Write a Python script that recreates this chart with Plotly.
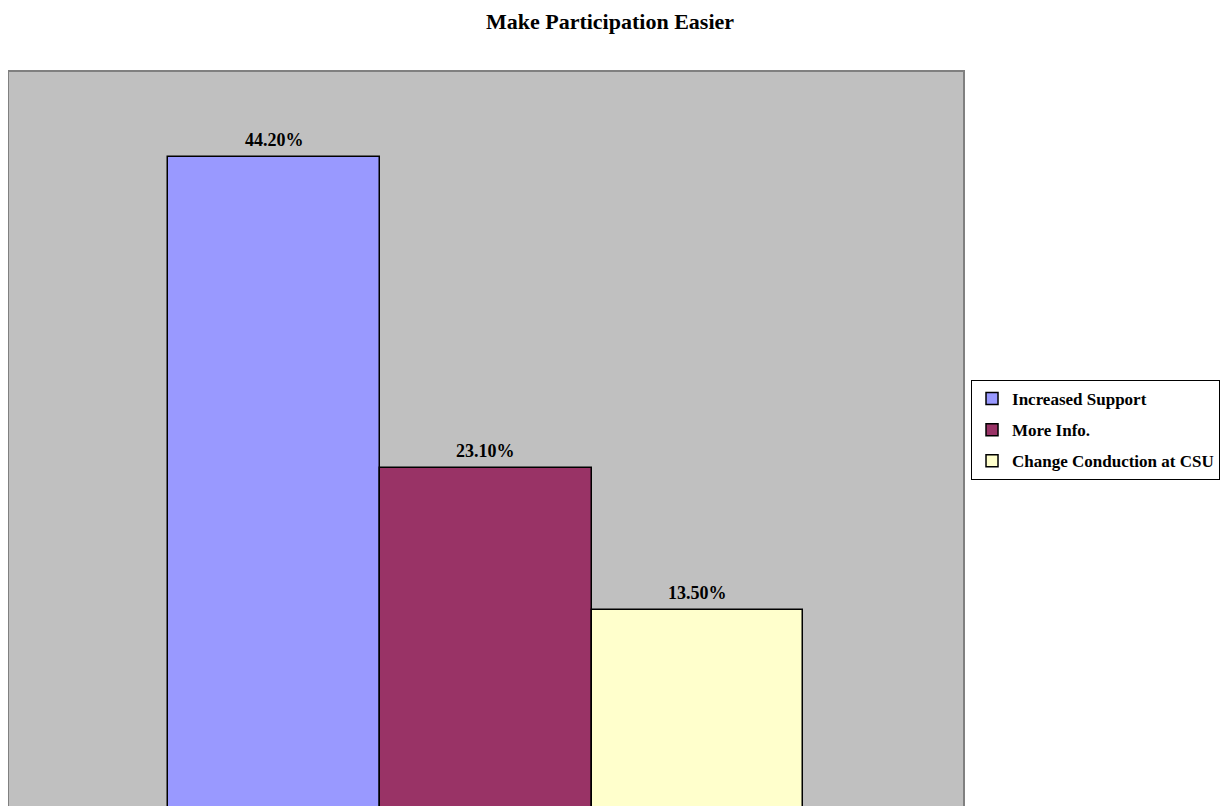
import plotly.graph_objects as go

title = "Make Participation Easier"
series_names = ["Increased Support", "More Info.", "Change Conduction at CSU"]
values = [44.2, 23.1, 13.5]
colors = ["#9999FF", "#993366", "#FFFFCC"]

FONT = "Liberation Serif, Times New Roman, serif"

fig = go.Figure()
for i, (name, v, c) in enumerate(zip(series_names, values, colors)):
    fig.add_trace(go.Bar(
        x=[name], y=[v], name=name,
        marker=dict(color=c, line=dict(color="black", width=1.5)),
        legendgroup=f"g{i}", hoverinfo="x+y",
    ))
    fig.add_annotation(
        x=name, y=v, xref="x", yref="y", text=f"<b>{v:.2f}%</b>",
        showarrow=False, yanchor="bottom", yshift=5,
        font=dict(family=FONT, size=18, color="black"),
    )

fig.update_layout(
    width=1220, height=798,
    paper_bgcolor="white", plot_bgcolor="#C0C0C0",
    barmode="overlay", bargap=0,
    margin=dict(l=1, r=265, t=64, b=0),
    title=dict(text=f"<b>{title}</b>", x=602 / 1220, xref="container", xanchor="center",
               y=1 - 13 / 798, yanchor="middle",
               font=dict(family=FONT, size=22, color="black")),
    showlegend=True,
    legend=dict(x=1.0084, xanchor="left", y=0.5804, yanchor="top",
                bordercolor="black", borderwidth=1, bgcolor="white",
                font=dict(family=FONT, size=17, color="black", weight="bold"),
                tracegroupgap=6, itemwidth=30),
    xaxis=dict(type="category", showticklabels=False, showgrid=False, zeroline=False,
               showline=True, linecolor="#808080", linewidth=2, mirror=True,
               range=[-1.253, 3.254]),
    yaxis=dict(range=[0.17, 50], showticklabels=False, showgrid=False, zeroline=False,
               showline=True, linecolor="#808080", linewidth=2, mirror=True),
)
fig.write_html("out.html")
